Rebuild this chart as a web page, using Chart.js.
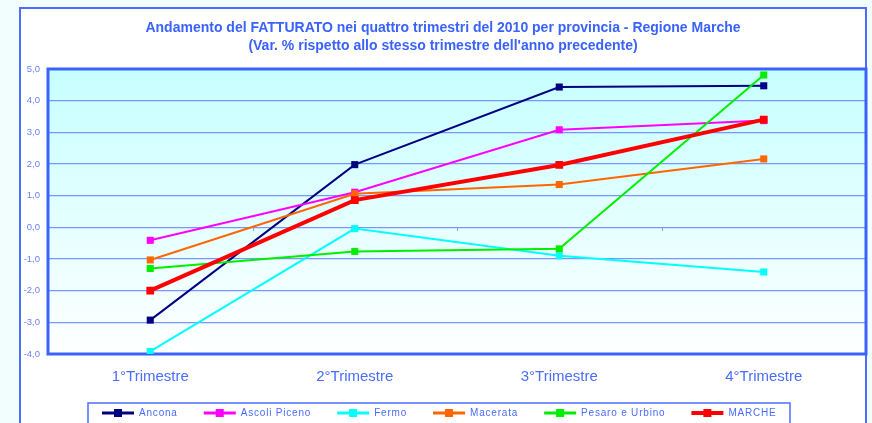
<!DOCTYPE html>
<html>
<head>
<meta charset="utf-8">
<script src="https://cdn.jsdelivr.net/npm/chart.js@4.4.1/dist/chart.umd.min.js"></script>
<style>
  html, body { margin: 0; padding: 0; background: #f2fefe; }
  #wrap { width: 872px; height: 423px; }
</style>
</head>
<body>
<div id="wrap"><canvas id="grafico" width="872" height="423"></canvas></div>
<script>
const trimestri = ["1°Trimestre", "2°Trimestre", "3°Trimestre", "4°Trimestre"]

const ancona = [-2.93, 1.98, 4.43, 4.47]
const ascoliPiceno = [-0.41, 1.11, 3.08, 3.37]
const fermo = [-3.92, -0.04, -0.9, -1.41]
const macerata = [-1.03, 1.06, 1.35, 2.16]
const pesaroUrbino = [-1.3, -0.76, -0.68, 4.81]
const marche = [-2.0, 0.86, 1.97, 3.4]

const titolo = [
  "Andamento del FATTURATO nei quattro trimestri del 2010 per provincia - Regione Marche",
  "(Var. % rispetto allo stesso trimestre dell'anno precedente)"
]

const blu = "#3a62ff"
const testo = "#4a6cff"

function serie(label, data, color, width, n) {
  return {
    label,
    data,
    borderColor: color,
    backgroundColor: color,
    borderWidth: width,
    pointStyle: "rect",
    pointRadius: width > 3 ? 5.5 : 5,
    pointBorderWidth: 0,
    pointHoverRadius: 5,
    tension: 0,
    order: n
  }
}

// frame, plot background, border, title and legend
const cornice = {
  id: "cornice",
  beforeDraw(chart) {
    const c = chart.ctx, a = chart.chartArea
    c.save()
    c.fillStyle = "#f2fefe"
    c.fillRect(0, 0, chart.width, chart.height)
    c.fillStyle = "#ffffff"
    c.fillRect(20, 8, 846, 430)
    c.strokeStyle = "#4d6dff"
    c.lineWidth = 2
    c.strokeRect(20, 8, 846, 430)
    const g = c.createLinearGradient(0, a.top, 0, a.bottom)
    g.addColorStop(0, "#c6ffff")
    g.addColorStop(1, "#ffffff")
    c.fillStyle = g
    c.fillRect(a.left, a.top, a.right - a.left, a.bottom - a.top)
    c.restore()
  },
  beforeDatasetsDraw(chart) {
    const c = chart.ctx, a = chart.chartArea
    const y = chart.scales.y
    c.save()
    // little category ticks on the zero line
    c.strokeStyle = "#7f9fff"
    c.lineWidth = 1
    const y0 = Math.round(y.getPixelForValue(0))
    const w = (a.right - a.left) / trimestri.length
    for (let i = 1; i < trimestri.length; i++) {
      const px = Math.round(a.left + i * w) + 0.5
      c.beginPath()
      c.moveTo(px, y0)
      c.lineTo(px, y0 + 4)
      c.stroke()
    }
    c.strokeStyle = blu
    c.lineWidth = 3
    c.strokeRect(a.left, a.top, a.right - a.left, a.bottom - a.top)
    c.restore()
  },
  afterDraw(chart) {
    const c = chart.ctx
    c.save()
    c.fillStyle = blu
    c.textAlign = "center"
    c.textBaseline = "middle"
    c.font = "bold 14px 'Liberation Sans', Arial, sans-serif"
    c.fillText(titolo[0], 443, 28)
    c.fillText(titolo[1], 443, 46)

    // legend
    c.strokeStyle = "#4d6dff"
    c.lineWidth = 1.5
    c.strokeRect(88, 403, 702, 40)
    c.font = "10px 'Liberation Sans', Arial, sans-serif"
    c.letterSpacing = "0.8px"
    c.textAlign = "left"
    let lx = 102
    const ly = 413
    chart.data.datasets.forEach(ds => {
      c.strokeStyle = ds.borderColor
      c.fillStyle = ds.borderColor
      c.lineWidth = ds.borderWidth > 3 ? 4 : 3
      c.beginPath()
      c.moveTo(lx, ly)
      c.lineTo(lx + 32, ly)
      c.stroke()
      c.fillRect(lx + 12, ly - 4, 8, 8)
      c.fillStyle = testo
      c.fillText(ds.label, lx + 37, ly)
      lx += 37 + c.measureText(ds.label).width + 26
    })
    c.restore()
  }
}

const config = {
  type: "line",
  data: {
    labels: trimestri,
    datasets: [
      serie("Ancona", ancona, "#000080", 2, 6),
      serie("Ascoli Piceno", ascoliPiceno, "#ff00ff", 2, 5),
      serie("Fermo", fermo, "#00ffff", 2, 4),
      serie("Macerata", macerata, "#ff6600", 2, 3),
      serie("Pesaro e Urbino", pesaroUrbino, "#00ee00", 2, 2),
      serie("MARCHE", marche, "#ff0000", 4, 1)
    ]
  },
  plugins: [cornice],
  options: {
    responsive: false,
    animation: false,
    devicePixelRatio: 1,
    layout: { padding: { top: 69, right: 6, bottom: 24, left: 0 } },
    plugins: {
      legend: { display: false },
      title: { display: false },
      tooltip: { enabled: false }
    },
    scales: {
      x: {
        offset: true,
        grid: { display: false, drawTicks: false },
        border: { display: false },
        ticks: {
          color: testo,
          padding: 14,
          maxRotation: 0,
          font: { family: "'Liberation Sans', Arial, sans-serif", size: 15 }
        },
        afterFit(s) { s.height = 45 }
      },
      y: {
        min: -4,
        max: 5,
        grid: { color: "#7896ff", lineWidth: 1.3, drawTicks: false },
        border: { display: false },
        ticks: {
          stepSize: 1,
          color: "#6a80ff",
          padding: 8,
          font: { family: "'Liberation Sans', Arial, sans-serif", size: 9.5 },
          callback: v => v.toFixed(1).replace(".", ",")
        },
        afterFit(s) { s.width = 48 }
      }
    }
  }
}

new Chart(document.getElementById("grafico").getContext("2d"), config)
</script>
</body>
</html>
